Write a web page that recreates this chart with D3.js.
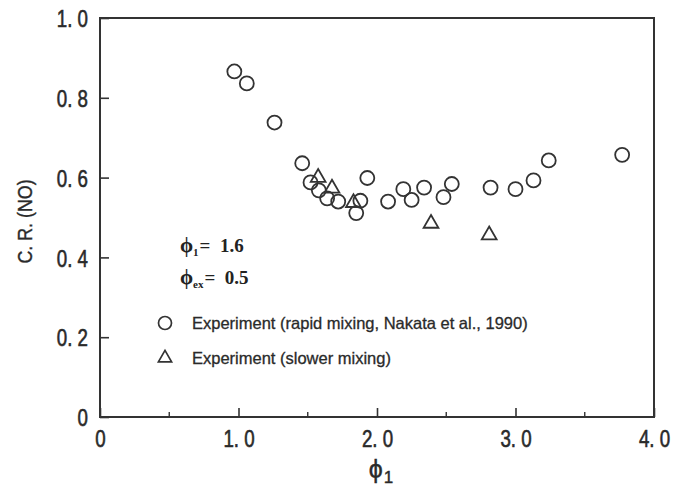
<!DOCTYPE html>
<html lang="en">
<head>
    <meta charset="UTF-8">
    <title>C.R.(NO) vs phi1</title>
    <style>
        body { margin: 0; background: #fff; }
        .tick text {
            font-family: "Liberation Sans", Arial, sans-serif;
            font-size: 24px;
            fill: #2a2a2a;
            stroke: #2a2a2a;
            stroke-width: 0.6px;
            white-space: pre;
        }
        .axis-title {
            font-family: "Liberation Sans", Arial, sans-serif;
            fill: #2a2a2a;
            stroke: #2a2a2a;
            stroke-width: 0.4px;
        }
        .note {
            font-family: "Liberation Serif", serif;
            font-weight: bold;
            font-size: 19px;
            fill: #222;
            white-space: pre;
        }
        .legend {
            font-family: "Liberation Sans", Arial, sans-serif;
            font-size: 16.5px;
            fill: #2a2a2a;
            stroke: #2a2a2a;
            stroke-width: 0.3px;
        }
    </style>
</head>
<body>
    <svg width="673" height="493"></svg>

    <script src="https://d3js.org/d3.v7.min.js"></script>
    <script>
        // Experiment (rapid mixing, Nakata et al., 1990)
        const rapidPhi = [0.97, 1.06, 1.26, 1.46, 1.52, 1.58, 1.64, 1.72, 1.85, 1.88, 1.93,
                          2.08, 2.19, 2.25, 2.34, 2.48, 2.54, 2.82, 3.00, 3.13, 3.24, 3.77];
        const rapidCR  = [0.866, 0.836, 0.738, 0.636, 0.588, 0.568, 0.548, 0.540, 0.511, 0.542, 0.599,
                          0.540, 0.571, 0.544, 0.575, 0.551, 0.584, 0.575, 0.571, 0.593, 0.643, 0.657];

        // Experiment (slower mixing)
        const slowPhi = [1.575, 1.675, 1.83, 2.39, 2.81];
        const slowCR  = [0.600, 0.573, 0.537, 0.485, 0.456];

        const xTicks = [0, 1, 2, 3, 4];
        const xMinor = [0.5, 1.5, 2.5, 3.5];
        const yTicks = [0, 0.2, 0.4, 0.6, 0.8, 1.0];

        const svg = d3.select("svg");
        const margin = { top: 18, right: 19, bottom: 76, left: 100 };
        const W = 673, H = 493;
        const ink = "#333";
        const squeeze = 0.78;   // condensed look of the tick numbers

        const x = d3.scaleLinear().domain([0, 4]).range([margin.left, W - margin.right]);
        const y = d3.scaleLinear().domain([0, 1]).range([H - margin.bottom, margin.top]);

        const fmt = d => d === 0 ? "0" : d.toFixed(1).replace(".", ". ");

        // frame
        svg.append("rect")
            .attr("x", x(0)).attr("y", y(1))
            .attr("width", x(4) - x(0)).attr("height", y(0) - y(1))
            .attr("fill", "none").attr("stroke", ink).attr("stroke-width", 2);

        // left axis, ticks pointing inward
        const yAxis = svg.append("g")
            .attr("transform", `translate(${x(0)},0)`)
            .call(d3.axisLeft(y).tickValues(yTicks).tickFormat(fmt).tickSizeInner(-9).tickSizeOuter(0).tickPadding(12));
        yAxis.select(".domain").remove();
        yAxis.selectAll(".tick line").attr("stroke", ink).attr("stroke-width", 1.6);
        yAxis.selectAll(".tick text")
            .attr("dy", "0.36em")
            .attr("x", -12 / squeeze)
            .attr("transform", `scale(${squeeze},1)`);

        // bottom axis
        const xAxis = svg.append("g")
            .attr("transform", `translate(0,${y(0)})`)
            .call(d3.axisBottom(x).tickValues(xTicks).tickFormat(fmt).tickSizeInner(-9).tickSizeOuter(0).tickPadding(13));
        xAxis.select(".domain").remove();
        xAxis.selectAll(".tick line").attr("stroke", ink).attr("stroke-width", 1.6);
        xAxis.selectAll(".tick text").attr("transform", `scale(${squeeze},1)`);

        svg.append("g")
            .selectAll("line")
            .data(xMinor)
            .join("line")
            .attr("x1", d => x(d)).attr("x2", d => x(d))
            .attr("y1", y(0)).attr("y2", y(0) - 5)
            .attr("stroke", ink).attr("stroke-width", 1.4);

        // axis titles
        svg.append("text")
            .attr("class", "axis-title")
            .attr("transform", `translate(32,${(y(0) + y(1)) / 2 + 4}) rotate(-90) scale(0.85,1)`)
            .attr("text-anchor", "middle")
            .style("font-size", "21px")
            .text("C. R. (NO)");

        const xt = svg.append("text")
            .attr("class", "axis-title")
            .attr("x", x(2) + 4).attr("y", 478)
            .attr("text-anchor", "middle")
            .style("font-size", "25px");
        xt.append("tspan").text("ϕ");
        xt.append("tspan").attr("dy", 5).attr("dx", 1).style("font-size", "17px").text("1");

        // points
        const rapid = rapidPhi.map((v, i) => ({ phi: v, cr: rapidCR[i] }));
        const slow = slowPhi.map((v, i) => ({ phi: v, cr: slowCR[i] }));

        svg.append("g")
            .selectAll("circle")
            .data(rapid)
            .join("circle")
            .attr("cx", d => x(d.phi))
            .attr("cy", d => y(d.cr))
            .attr("r", 7)
            .attr("fill", "none")
            .attr("stroke", ink)
            .attr("stroke-width", 1.8);

        const tri = d3.symbol().type(d3.symbolTriangle).size(95);
        svg.append("g")
            .selectAll("path")
            .data(slow)
            .join("path")
            .attr("d", tri)
            .attr("transform", d => `translate(${x(d.phi)},${y(d.cr)})`)
            .attr("fill", "none")
            .attr("stroke", ink)
            .attr("stroke-width", 1.8);

        // condition notes
        const n1 = svg.append("text").attr("class", "note").attr("x", 180).attr("y", 252);
        n1.append("tspan").style("font-size", "21px").text("ϕ");
        n1.append("tspan").attr("dy", 4).style("font-size", "11px").text("1");
        n1.append("tspan").attr("dy", -4).attr("dx", 1).text("=  1.6");

        const n2 = svg.append("text").attr("class", "note").attr("x", 180).attr("y", 284);
        n2.append("tspan").style("font-size", "21px").text("ϕ");
        n2.append("tspan").attr("dy", 4).style("font-size", "11px").text("ex");
        n2.append("tspan").attr("dy", -4).attr("dx", 1).text("=  0.5");

        // legend
        const legendRows = [
            { label: "Experiment (rapid mixing, Nakata et al., 1990)", shape: "circle" },
            { label: "Experiment (slower mixing)", shape: "triangle" }
        ];
        const lg = svg.append("g")
            .selectAll("g")
            .data(legendRows)
            .join("g")
            .attr("transform", (d, i) => `translate(165,${323 + i * 35})`);

        lg.filter(d => d.shape === "circle").append("circle")
            .attr("r", 6.5).attr("fill", "none").attr("stroke", ink).attr("stroke-width", 1.7);
        lg.filter(d => d.shape === "triangle").append("path")
            .attr("d", d3.symbol().type(d3.symbolTriangle).size(75))
            .attr("fill", "none").attr("stroke", ink).attr("stroke-width", 1.7);

        lg.append("text")
            .attr("class", "legend")
            .attr("x", 27).attr("dy", "0.35em")
            .text(d => d.label);
    </script>
</body>
</html>
